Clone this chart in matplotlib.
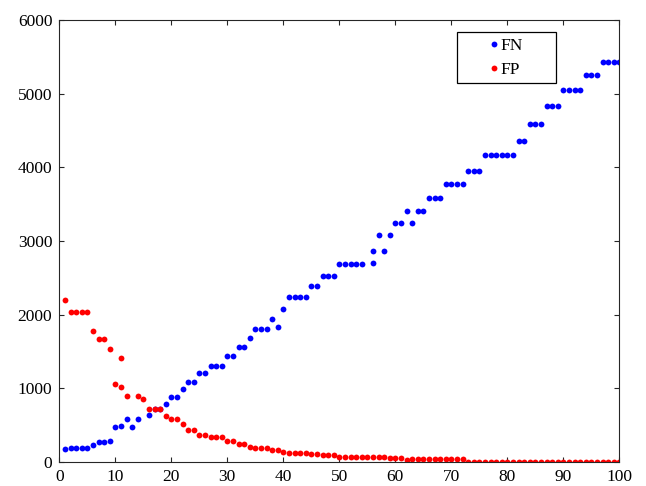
import matplotlib

matplotlib.use("Agg")
import matplotlib.pyplot as plt

# ---------- data ----------
fn_x = list(range(1, 15)) + list(range(16, 55)) + [56, 56] + list(range(57, 101))
fn_y = [180, 195, 195, 195, 195, 230, 267, 267, 285, 475,
        493, 583, 480, 583,
        638, 715, 715, 791, 882, 882, 986, 1090, 1090, 1212,
        1212, 1303, 1303, 1303, 1443, 1443, 1565, 1565, 1687, 1812,
        1812, 1812, 1936, 1828, 2072, 2235, 2235, 2235, 2235, 2388,
        2388, 2528, 2528, 2528, 2691, 2691, 2691, 2691, 2691,
        2695, 2863,
        3076, 2863, 3076, 3248, 3248, 3411, 3248, 3411, 3411, 3587,
        3587, 3587, 3777, 3777, 3777, 3777, 3953, 3953, 3953, 4162,
        4162, 4162, 4162, 4162, 4162, 4360, 4360, 4587, 4587, 4587,
        4831, 4831, 4831, 5044, 5044, 5044, 5044, 5256, 5256, 5256,
        5428, 5428, 5428, 5428]

fp_x = list(range(1, 12)) + [11, 12] + list(range(14, 101))
fp_y = [2198, 2035, 2035, 2035, 2035, 1778, 1669, 1669, 1529, 1058,
        1411, 1018, 895,
        895, 851, 720, 720, 720, 629, 579, 579, 511, 439,
        439, 371, 371, 335, 335, 335, 285, 285, 246, 246,
        210, 192, 192, 192, 158, 167, 140, 122, 122, 122,
        122, 104, 104, 90, 90, 90, 68, 68, 68, 68,
        68, 62, 62, 62, 62, 50, 50, 50, 23, 41,
        41, 34, 34, 34, 37, 37, 37, 34, 34, 5,
        5, 5, 5, 5, 5, 5, 5, 5, 5, 5,
        5, 5, 5, 5, 5, 5, 5, 5, 5, 5,
        5, 5, 5, 5, 5, 5, 5]

x_ticks = list(range(0, 101, 10))
y_ticks = list(range(0, 6001, 1000))

plt.rcParams["font.family"] = ["Liberation Serif", "DejaVu Serif"]

fig = plt.figure(figsize=(6.46, 4.86), dpi=100)
ax = fig.add_axes([0.0918, 0.0494, 0.8669, 0.9094])

ax.plot(fn_x, fn_y, "o", color="#0000ff", markersize=4.2, markeredgewidth=0, label="FN")
ax.plot(fp_x, fp_y, "o", color="#ff0000", markersize=4.2, markeredgewidth=0, label="FP")

ax.set_xlim(0, 100)
ax.set_ylim(0, 6000)
ax.set_xticks(x_ticks)
ax.set_yticks(y_ticks)
ax.tick_params(direction="in", length=3.6, width=0.8, top=True, right=True,
               labelsize=12.5, pad=5, colors="#262626", labelcolor="black")
for sp in ax.spines.values():
    sp.set_linewidth(0.8)
    sp.set_color("#262626")

leg = ax.legend(loc="upper left", bbox_to_anchor=(0.7107, 0.85, 0.1757, 0.1222),
                mode="expand", borderaxespad=0, fontsize=12.5, numpoints=1,
                handlelength=3.66, handletextpad=-1.5, borderpad=0.3,
                labelspacing=0.45, fancybox=False, framealpha=1)
leg.get_frame().set_edgecolor("black")
leg.get_frame().set_linewidth(0.9)

fig.savefig("out.png", dpi=100)
